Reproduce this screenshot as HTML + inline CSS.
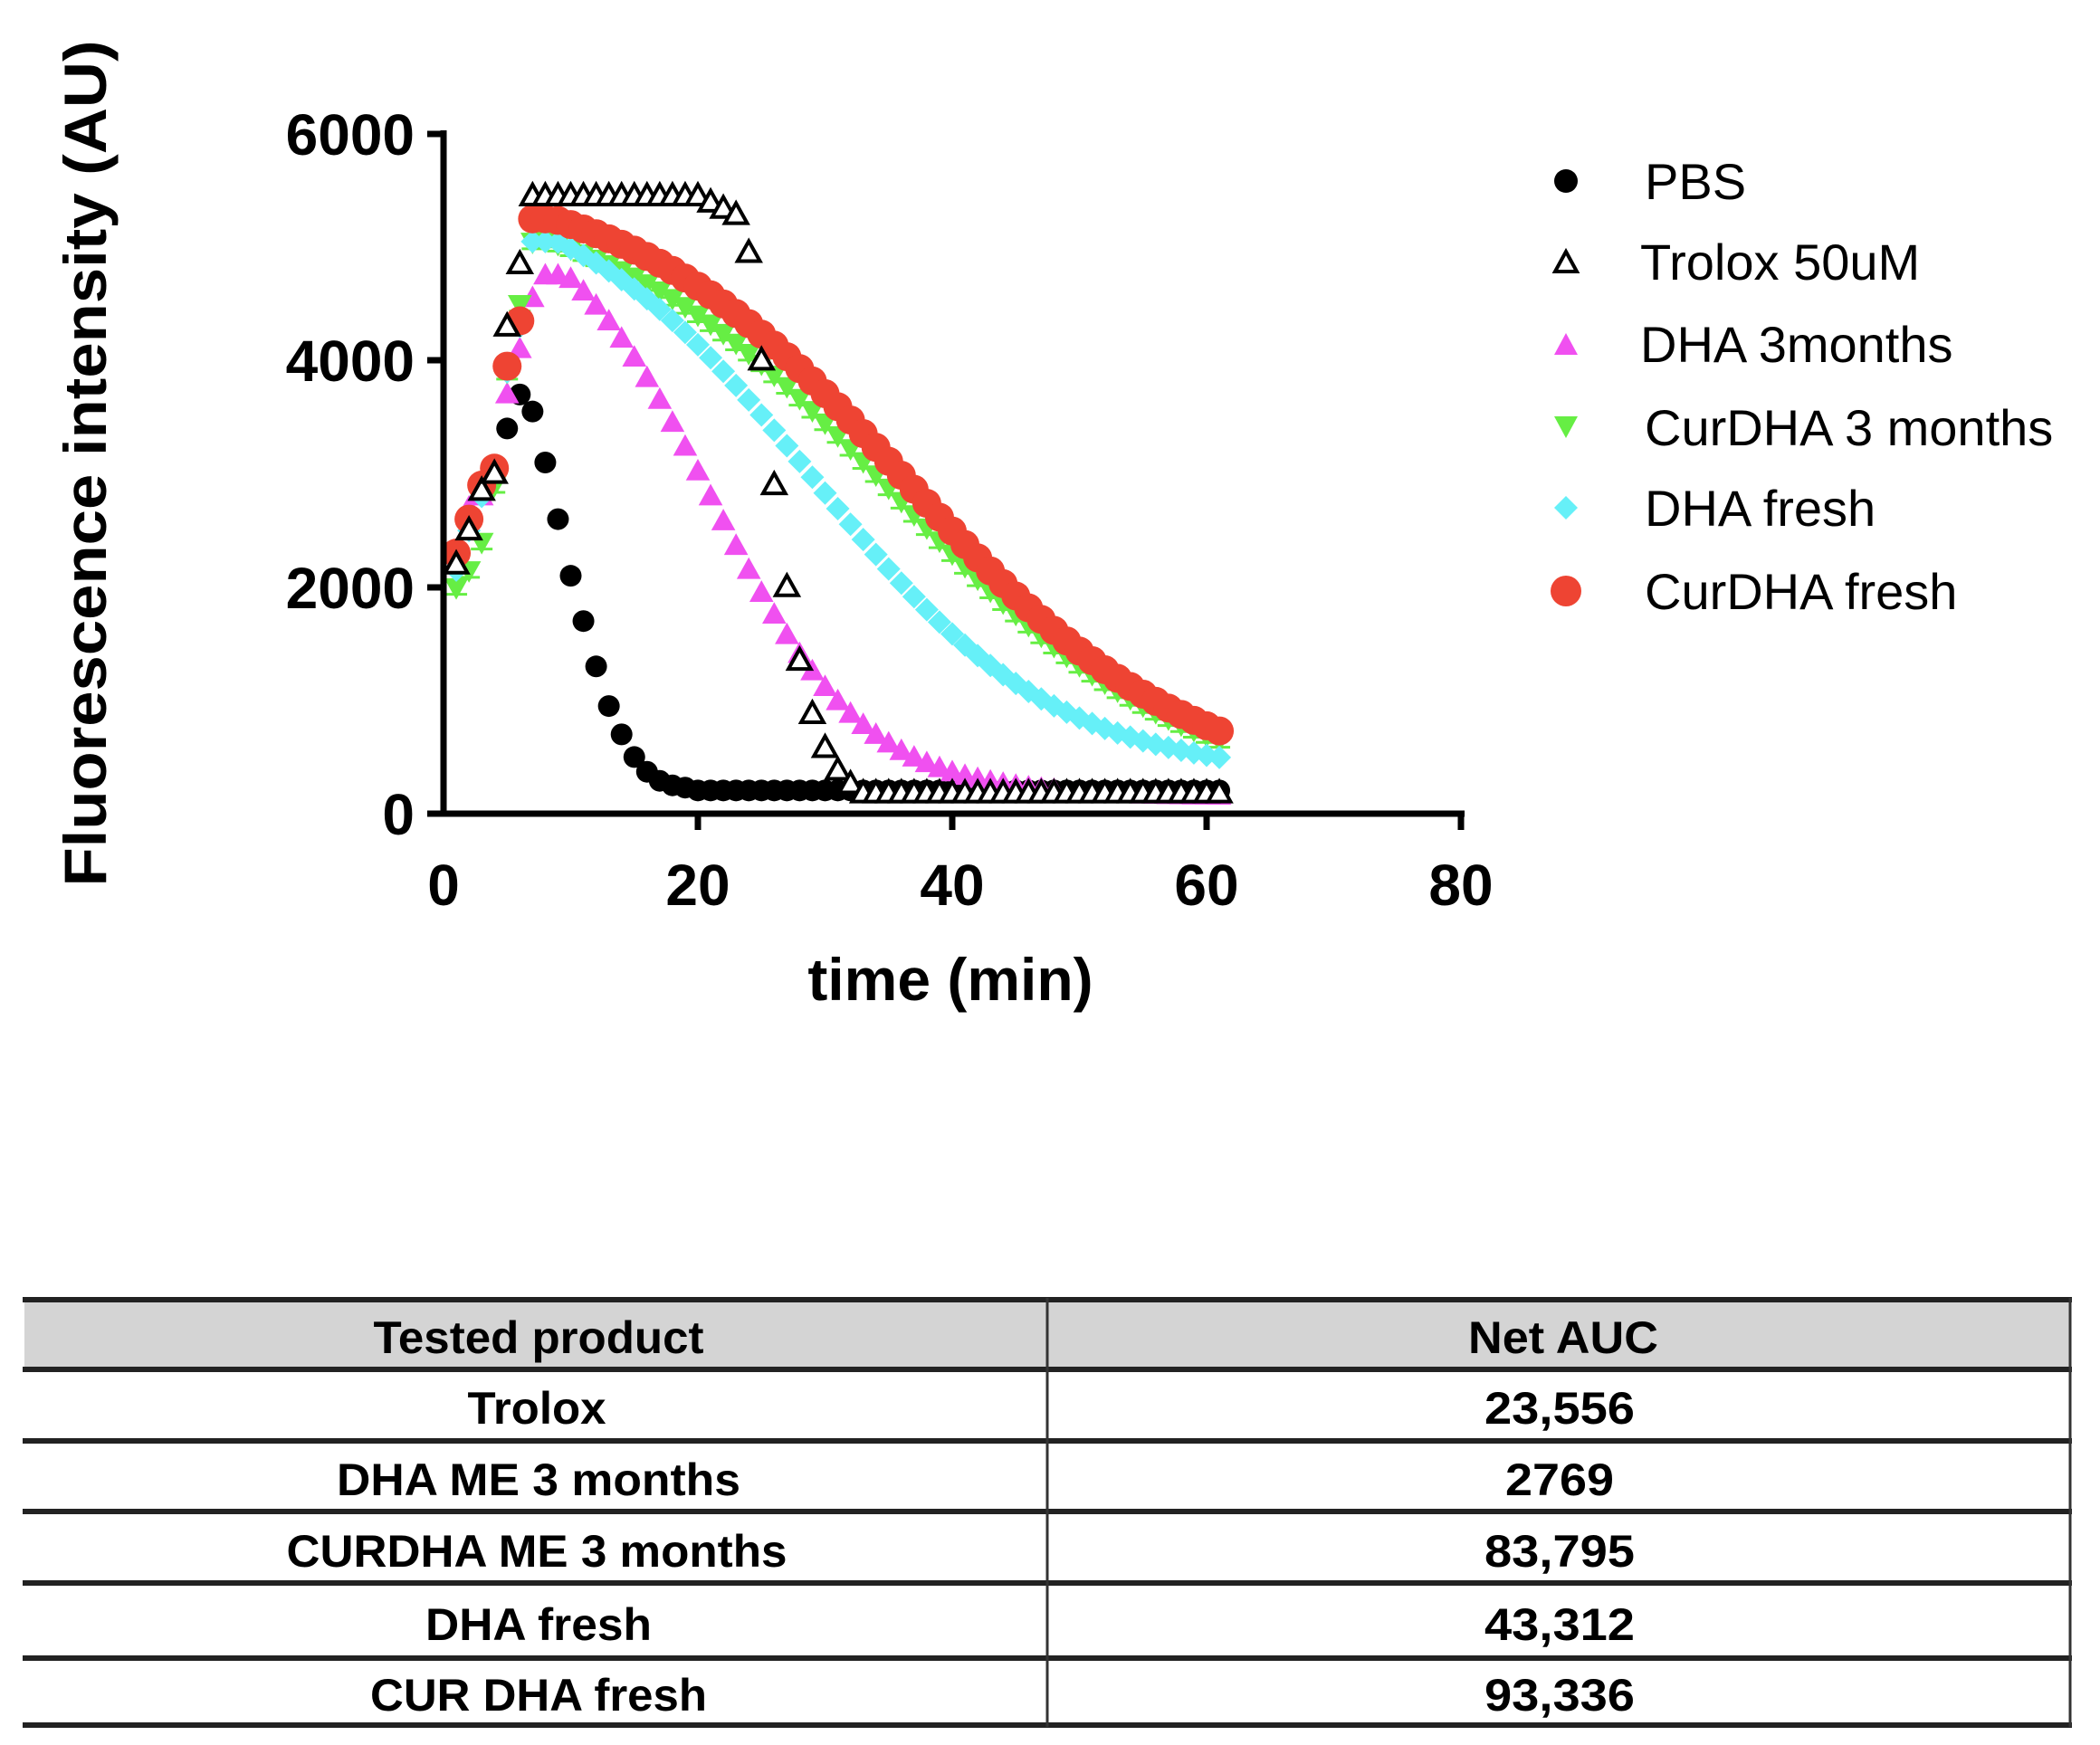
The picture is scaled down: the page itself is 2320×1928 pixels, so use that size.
<!DOCTYPE html>
<html><head><meta charset="utf-8">
<style>html,body{margin:0;padding:0;background:#fff}svg{display:block}</style>
</head><body>
<svg id="s" xmlns="http://www.w3.org/2000/svg" width="2320" height="1928" viewBox="0 0 2320 1928" font-family="Liberation Sans, sans-serif">
<rect width="2320" height="1928" fill="#fff"/>
<g id="plot"></g>
<g stroke="#000" stroke-width="7" fill="none">
<line x1="490" y1="144" x2="490" y2="902"/>
<line x1="486" y1="899" x2="1618" y2="899"/>
<line x1="472" y1="148" x2="490" y2="148"/>
<line x1="472" y1="398" x2="490" y2="398"/>
<line x1="472" y1="649" x2="490" y2="649"/>
<line x1="472" y1="899" x2="490" y2="899"/>
<line x1="771" y1="899" x2="771" y2="917"/>
<line x1="1052" y1="899" x2="1052" y2="917"/>
<line x1="1333" y1="899" x2="1333" y2="917"/>
<line x1="1614" y1="899" x2="1614" y2="917"/>
</g>
<g font-weight="bold" font-size="64" fill="#000">
<g text-anchor="end">
<text x="458" y="171">6000</text>
<text x="458" y="421">4000</text>
<text x="458" y="672">2000</text>
<text x="458" y="922">0</text>
</g>
<g text-anchor="middle">
<text x="490" y="1000">0</text>
<text x="771" y="1000">20</text>
<text x="1052" y="1000">40</text>
<text x="1333" y="1000">60</text>
<text x="1614" y="1000">80</text>
<text x="1050" y="1105" font-size="66">time (min)</text>
<text transform="translate(117,512) rotate(-90)" font-size="66" textLength="935" lengthAdjust="spacingAndGlyphs">Fluorescence intensity (AU)</text>
</g>
</g>
<g font-size="56" fill="#000">
<circle cx="1730" cy="200" r="13" fill="#000"/>
<text x="1817" y="220">PBS</text>
<polygon points="1730,278 1742,300 1718,300" fill="none" stroke="#000" stroke-width="4"/>
<text x="1812" y="309">Trolox 50uM</text>
<polygon points="1730,368 1743,392 1717,392" fill="#f050f0"/>
<text x="1812" y="400">DHA 3months</text>
<polygon points="1717,460 1743,460 1730,484" fill="#66ee44"/>
<text x="1817" y="492">CurDHA 3 months</text>
<polygon points="1730,548 1743,561 1730,574 1717,561" fill="#66f0f8"/>
<text x="1817" y="581">DHA fresh</text>
<circle cx="1730" cy="653" r="17" fill="#ee4433"/>
<text x="1817" y="673">CurDHA fresh</text>
</g>
<rect x="27" y="1437" width="2260" height="76" fill="#d4d4d4"/>
<g stroke="#222" stroke-width="6">
<line x1="25" y1="1436" x2="2289" y2="1436"/>
<line x1="25" y1="1513" x2="2289" y2="1513"/>
<line x1="25" y1="1592" x2="2289" y2="1592"/>
<line x1="25" y1="1670" x2="2289" y2="1670"/>
<line x1="25" y1="1749" x2="2289" y2="1749"/>
<line x1="25" y1="1832" x2="2289" y2="1832"/>
<line x1="25" y1="1906" x2="2289" y2="1906"/>
</g>
<g stroke="#333" stroke-width="3">
<line x1="1157" y1="1434" x2="1157" y2="1908"/>
<line x1="2287" y1="1434" x2="2287" y2="1908"/>
</g>
<g font-weight="bold" font-size="50" fill="#000" text-anchor="middle">
<text x="595" y="1495" textLength="365" lengthAdjust="spacingAndGlyphs">Tested product</text>
<text x="1727" y="1495" textLength="210" lengthAdjust="spacingAndGlyphs">Net AUC</text>
<text x="593" y="1573" textLength="153" lengthAdjust="spacingAndGlyphs">Trolox</text>
<text x="1723" y="1573" textLength="166" lengthAdjust="spacingAndGlyphs">23,556</text>
<text x="595" y="1652" textLength="446" lengthAdjust="spacingAndGlyphs">DHA ME 3 months</text>
<text x="1723" y="1652" textLength="120" lengthAdjust="spacingAndGlyphs">2769</text>
<text x="593" y="1731" textLength="553" lengthAdjust="spacingAndGlyphs">CURDHA ME 3 months</text>
<text x="1723" y="1731" textLength="166" lengthAdjust="spacingAndGlyphs">83,795</text>
<text x="595" y="1812" textLength="250" lengthAdjust="spacingAndGlyphs">DHA fresh</text>
<text x="1723" y="1812" textLength="166" lengthAdjust="spacingAndGlyphs">43,312</text>
<text x="595" y="1890" textLength="372" lengthAdjust="spacingAndGlyphs">CUR DHA fresh</text>
<text x="1723" y="1890" textLength="166" lengthAdjust="spacingAndGlyphs">93,336</text>
</g>
</svg>
<script>
(function(){
var g=document.getElementById('plot'),NS='http://www.w3.org/2000/svg';
function X(t){return 490+t*(1124/80);}
function Y(v){return 899-v*(751/6000);}
function lg(t,A,t0,s,b){return b+A/(1+Math.exp((t-t0)/s));}
function pbs(t){if(t<=6)return [2300,2550,2900,3050,3400,3700][t-1];
 var pts={7:3550,8:3100,9:2600,10:2100,11:1700,12:1300,13:950,14:700,15:500,16:370,17:290,18:250,19:230};return pts[t]!==undefined?pts[t]:205;}
function trol(t){if(t<=6)return [2200,2500,2850,3000,4300,4850][t-1];
 if(t<=23)return 5450-(t>=21?(t-20)*55:0);
 var p={24:4950,25:4000,26:2900,27:2000,28:1350,29:880,30:580,31:380,32:260};return p[t]!==undefined?p[t]:180;}
function dha3(t){if(t<=6)return [2300,2700,2800,3000,3700,4100][t-1];if(t==7)return 4550;return Math.min(4750,lg(t,5300,21,6,150));}
function cur3(t){if(t<=6)return [2000,2150,2400,2900,3900,4500][t-1];if(t==7)return 5050;return Math.min(5230,lg(t,5400,35.5,11.5,120));}
function dhaf(t){if(t<=6)return [2150,2500,2800,3000,3900,4300][t-1];return Math.min(5050,lg(t,5300,29,9.5,320));}
function curf(t){if(t<=6)return [2300,2600,2900,3050,3950,4350][t-1];return Math.min(5250,lg(t,5450,36.5,11,200));}
function add(el,attrs){var e=document.createElementNS(NS,el);for(var k in attrs)e.setAttribute(k,attrs[k]);g.appendChild(e);}
function tri(x,y,r,fill,stroke){var p=(x)+','+(y-r)+' '+(x+r*0.95)+','+(y+r*0.7)+' '+(x-r*0.95)+','+(y+r*0.7);
 add('polygon',{points:p,fill:fill,stroke:stroke||'none','stroke-width':stroke?4:0});}
function dtri(x,y,r,fill){var p=(x-r*0.95)+','+(y-r*0.7)+' '+(x+r*0.95)+','+(y-r*0.7)+' '+x+','+(y+r);add('polygon',{points:p,fill:fill});
 add('line',{x1:x-12,y1:y+8,x2:x+12,y2:y+8,stroke:fill,'stroke-width':3});}
var t;
for(t=1;t<=61;t++){add('circle',{cx:X(t),cy:Y(pbs(t)),r:12,fill:'#000'});}
for(t=1;t<=61;t++){tri(X(t),Y(dha3(t)),14,'#f050f0');}
for(t=1;t<=61;t++){dtri(X(t),Y(cur3(t)),14,'#66ee44');}
for(t=1;t<=61;t++){var x=X(t),y=Y(dhaf(t));add('polygon',{points:x+','+(y-13)+' '+(x+13)+','+y+' '+x+','+(y+13)+' '+(x-13)+','+y,fill:'#66f0f8'});}
for(t=1;t<=61;t++){add('circle',{cx:X(t),cy:Y(curf(t)),r:16,fill:'#ee4433'});}
for(t=1;t<=61;t++){tri(X(t),Y(trol(t)),13,'#fff','#000');}
})();
</script>
</body></html>
